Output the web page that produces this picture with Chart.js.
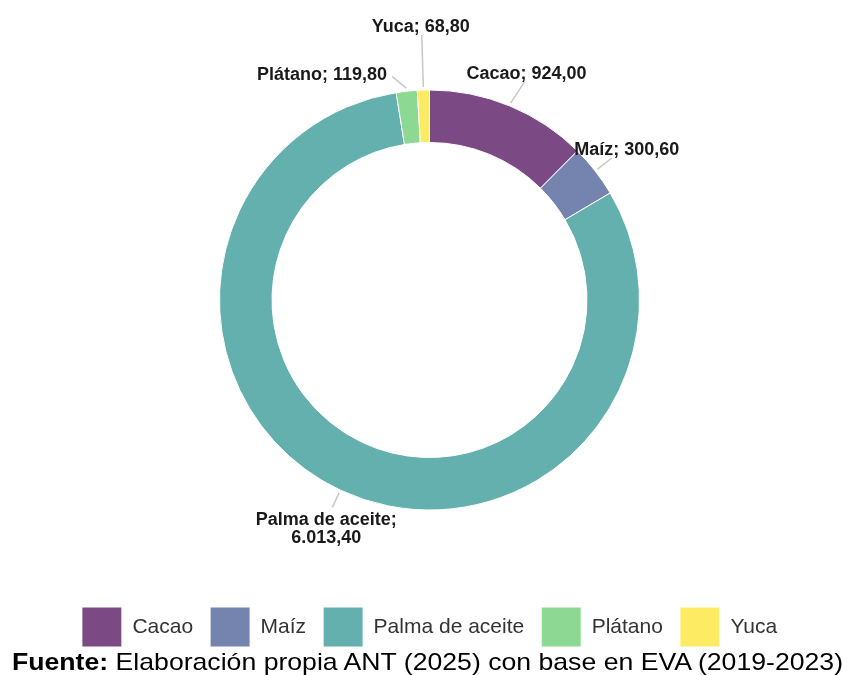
<!DOCTYPE html>
<html>
<head>
<meta charset="utf-8">
<script src="https://cdn.jsdelivr.net/npm/chart.js@4.4.1/dist/chart.umd.min.js"></script>
<style>
html, body { margin: 0; padding: 0; background: #ffffff; }
#wrap { position: relative; width: 849px; height: 675px; overflow: hidden; }
#c { position: absolute; left: 0; top: 0; }
#foot {
  position: absolute; left: 12px; top: 647px;
  font-family: 'Liberation Sans', Arial, Helvetica, sans-serif;
  font-size: 24px; line-height: 30px; color: #000; white-space: nowrap;
  transform-origin: 0 0;
}
</style>
</head>
<body>
<div id="wrap">
  <canvas id="c" width="849" height="675"></canvas>
  <div id="foot"><b>Fuente:</b> Elaboración propia ANT (2025) con base en EVA (2019-2023)</div>
</div>
<script>
// ---- Data ----
const categories = ['Cacao', 'Maíz', 'Palma de aceite', 'Plátano', 'Yuca'];
const values = [924.00, 300.60, 6013.40, 119.80, 68.80];
const colors = ['#7B4A85', '#7584AE', '#64B0AE', '#8DD993', '#FDEB64'];

// number format like 6.013,40
function fmt(v) {
  const parts = v.toFixed(2).split('.');
  parts[0] = parts[0].replace(/\B(?=(\d{3})+(?!\d))/g, '.');
  return parts[0] + ',' + parts[1];
}

// label placement (layout only)
const labelLayout = [
  { dist: 236, shiftX: 5,   dx: 2,  dy: -3, align: 'center', wrap: false },
  { dist: 231, shiftX: 0,   dx: 15, dy: -3, align: 'center', wrap: false },
  { dist: 229, shiftX: 0,   dx: -6, dy: 18, align: 'center', wrap: true },
  { dist: 225, shiftX: -13, dx: -5, dy: 4,  align: 'right',  wrap: false },
  { dist: 265, shiftX: 0,   dx: -1, dy: -3, align: 'center', wrap: false }
];

const outLabels = {
  id: 'outLabels',
  afterDatasetsDraw(chart) {
    const ctx = chart.ctx;
    const meta = chart.getDatasetMeta(0);
    meta.data.forEach((arc, i) => {
      const p = arc.getProps(['x', 'y', 'startAngle', 'endAngle', 'outerRadius'], true);
      const mid = (p.startAngle + p.endAngle) / 2;
      const L = labelLayout[i];
      const sx = p.x + Math.cos(mid) * (p.outerRadius + 3);
      const sy = p.y + Math.sin(mid) * (p.outerRadius + 3);
      const ex = p.x + Math.cos(mid) * L.dist + L.shiftX;
      const ey = p.y + Math.sin(mid) * L.dist;
      ctx.save();
      ctx.strokeStyle = '#c8c8c8';
      ctx.lineWidth = 1.5;
      ctx.beginPath();
      ctx.moveTo(sx, sy);
      ctx.lineTo(ex, ey);
      ctx.stroke();
      ctx.fillStyle = '#1a1a1a';
      ctx.font = 'bold 18px "Liberation Sans", Arial, sans-serif';
      ctx.textAlign = L.align;
      ctx.textBaseline = 'alphabetic';
      const name = categories[i] + ';';
      const val = fmt(values[i]);
      if (L.wrap) {
        ctx.fillText(name, ex + L.dx, ey + L.dy);
        ctx.fillText(val, ex + L.dx, ey + L.dy + 18);
      } else {
        ctx.fillText(name + ' ' + val, ex + L.dx, ey + L.dy);
      }
      ctx.restore();
    });
  }
};

new Chart(document.getElementById('c'), {
  type: 'doughnut',
  data: {
    labels: categories,
    datasets: [{
      data: values,
      backgroundColor: colors,
      borderColor: '#ffffff',
      borderWidth: 1
    }]
  },
  options: {
    responsive: false,
    animation: false,
    radius: 210,
    cutout: '75%',
    layout: { padding: { top: 10, left: 10, right: 0, bottom: 18 } },
    plugins: {
      tooltip: { enabled: false },
      legend: {
        position: 'bottom',
        labels: {
          boxWidth: 40,
          boxHeight: 40,
          padding: 17,
          color: '#333333',
          font: { family: '"Liberation Sans", Arial, sans-serif', size: 21 }
        }
      }
    }
  },
  plugins: [outLabels]
});

// fit footer width to the reference span
const foot = document.getElementById('foot');
const w = foot.getBoundingClientRect().width;
foot.style.transform = 'scaleX(' + (831 / w) + ')';
</script>
</body>
</html>
